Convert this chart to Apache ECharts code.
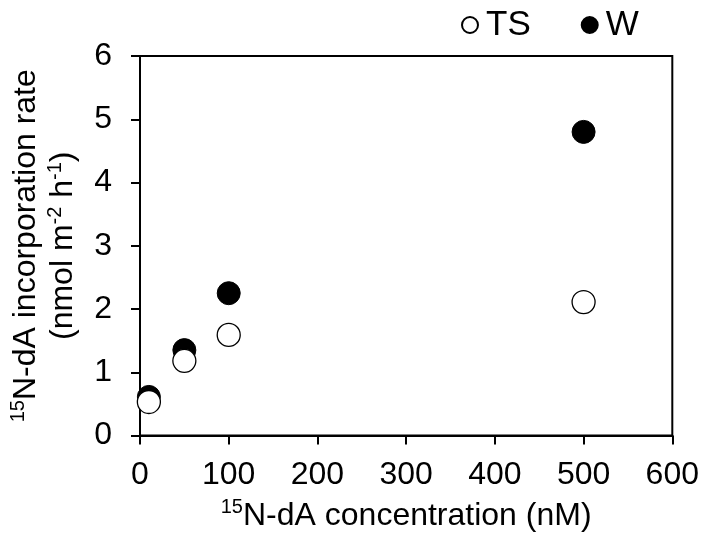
<!DOCTYPE html>
<html>
<head>
<meta charset="utf-8">
<script src="https://cdn.jsdelivr.net/npm/echarts@6/dist/echarts.min.js"></script>
<style>
  html, body { margin: 0; padding: 0; background: #fff; }
  #chart { width: 702px; height: 537px; }
</style>
</head>
<body>
<div id="chart"></div>
<script>
// 15N-dA concentration (nM)
const concentration = [10, 50, 100, 500]
// incorporation rate (nmol m-2 h-1)
const rateTS = [0.53, 1.18, 1.59, 2.11]
const rateW = [0.61, 1.35, 2.25, 4.80]
// axis ranges: min, max, step
const xRange = [0, 600, 100]
const yRange = [0, 6, 1]

const font = 'Liberation Sans, Arial, sans-serif'
const pair = ys => concentration.map((x, i) => [x, ys[i]])

// rich text styles for titles with superscripts
const titleRich = {
  t: { fontSize: 32, fontFamily: font, color: '#000', lineHeight: 37 },
  sup: { fontSize: 20, fontFamily: font, color: '#000', lineHeight: 20, verticalAlign: 'top' }
}

const chart = echarts.init(document.getElementById('chart'))
chart.setOption({
  animation: false,
  textStyle: { fontFamily: font, color: '#000' },
  legend: {
    data: ['TS', 'W'],
    left: 461,
    top: 7,
    padding: 0,
    itemWidth: 22,
    itemHeight: 16,
    itemGap: 50,
    textStyle: { fontSize: 35, fontFamily: font, color: '#000', lineHeight: 36 }
  },
  grid: {
    left: 139, right: 29, top: 56, bottom: 96,
    show: true, borderColor: '#000', borderWidth: 2
  },
  xAxis: {
    type: 'value',
    min: xRange[0], max: xRange[1], interval: xRange[2],
    axisLine: { show: true, lineStyle: { color: '#000', width: 2 } },
    axisTick: { show: true, inside: false, length: 9, lineStyle: { color: '#000', width: 2 } },
    axisLabel: { fontSize: 32, fontFamily: font, color: '#000', margin: 24 },
    splitLine: { show: false },
    name: '{sup|15}{t|N-dA concentration (nM)}',
    nameLocation: 'middle',
    nameGap: 62,
    nameTextStyle: { rich: titleRich }
  },
  yAxis: {
    type: 'value',
    min: yRange[0], max: yRange[1], interval: yRange[2],
    axisLine: { show: true, lineStyle: { color: '#000', width: 2 } },
    axisTick: { show: true, inside: false, length: 9, lineStyle: { color: '#000', width: 2 } },
    axisLabel: { fontSize: 32, fontFamily: font, color: '#000', margin: 28 },
    splitLine: { show: false },
    name: '{sup|15}{t|N-dA incorporation rate}\n{t|(nmol m}{sup|-2}{t| h}{sup|-1}{t|)}',
    nameLocation: 'middle',
    nameGap: 58,
    nameTextStyle: { rich: titleRich }
  },
  series: [
    {
      name: 'W',
      type: 'scatter',
      symbol: 'circle',
      symbolSize: 23,
      data: pair(rateW),
      itemStyle: { color: '#000', borderColor: '#000', borderWidth: 1, opacity: 1 },
      emphasis: { disabled: true }
    },
    {
      name: 'TS',
      type: 'scatter',
      symbol: 'circle',
      symbolSize: 23,
      data: pair(rateTS),
      itemStyle: { color: '#fff', borderColor: '#000', borderWidth: 1.3, opacity: 1 },
      emphasis: { disabled: true }
    }
  ]
})
</script>
</body>
</html>
